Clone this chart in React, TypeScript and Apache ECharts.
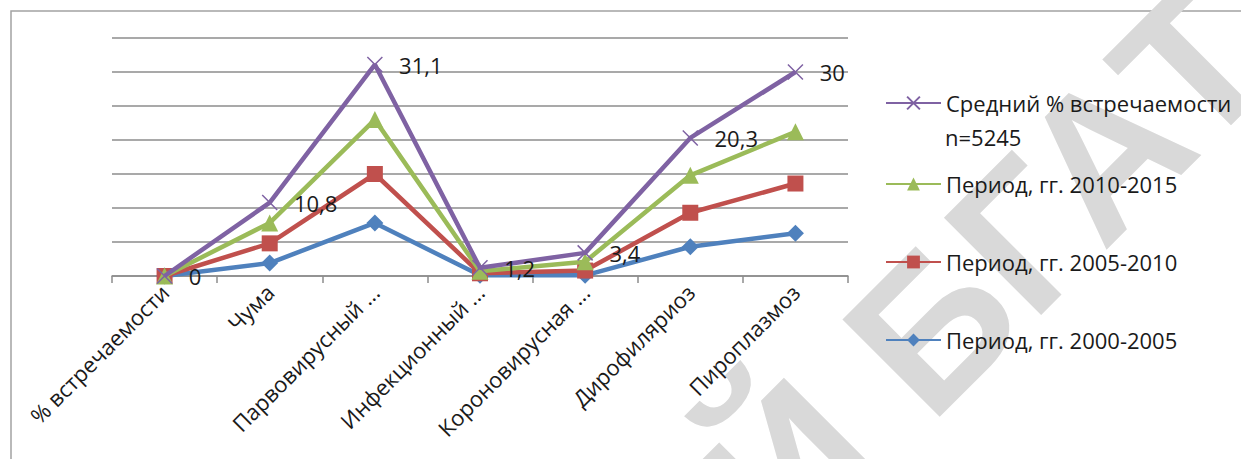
import React, { useEffect, useRef } from 'react';
import * as echarts from 'echarts';

const categories = [
  '% встречаемости',
  'Чума',
  'Парвовирусный ...',
  'Инфекционный ...',
  'Короновирусная ...',
  'Дирофиляриоз',
  'Пироплазмоз',
];
const seriesNames = [
  'Средний % встречаемости n=5245',
  'Период, гг. 2010-2015',
  'Период, гг. 2005-2010',
  'Период, гг. 2000-2005',
];
const avgValues = [0, 10.8, 31.1, 1.2, 3.4, 20.3, 30];
const p2010Values = [0, 7.8, 23.0, 0.7, 2.1, 14.8, 21.2];
const p2005Values = [0, 4.8, 15.0, 0.4, 0.8, 9.3, 13.6];
const p2000Values = [0, 1.9, 7.8, 0.1, 0.1, 4.3, 6.3];
const yMin = 0;
const yMax = 35;
const yStep = 5;

const FONT = 'Open Sans';
const FS = 22;
const TXT = '#1a1a1a';
const GRID = '#8c8c8c';
const PURPLE = '#7f62a3';
const GREEN = '#9bbb59';
const RED = '#c0504d';
const BLUE = '#4f81bd';

const xSymbol = 'path://M0,0L10,10M10,0L0,10';

function App() {
  const ref = useRef<HTMLDivElement>(null);
  useEffect(() => {
    if (!ref.current) return;
    const chart = echarts.init(ref.current, undefined, { renderer: 'svg' });
    const legendBase = {
      orient: 'vertical',
      left: 885,
      itemWidth: 55,
      itemHeight: 16,
      itemGap: 0,
      padding: 0,
      textStyle: { fontFamily: FONT, fontSize: FS, color: TXT, lineHeight: 26, padding: [0, 0, 0, 0] },
      selectedMode: false,
    };
    const wmStyle = { fill: '#d9d9d9', font: 'bold 200px "Liberation Sans"' };
    chart.setOption({
      animation: false,
      backgroundColor: '#ffffff',
      textStyle: { fontFamily: FONT },
      grid: { left: 112, right: 393, top: 38, bottom: 183, containLabel: false },
      graphic: [
        {
          type: 'group',
          x: 881,
          y: 377,
          rotation: Math.PI / 4,
          z: -10,
          silent: true,
          children: [
            { type: 'text', x: 0, y: 0, style: { ...wmStyle, text: 'БГАТУ', align: 'left', verticalAlign: 'middle' } },
            { type: 'text', x: -56, y: 0, style: { ...wmStyle, text: 'РЕПОЗИТОРИЙ', align: 'right', verticalAlign: 'middle' } },
          ],
        },
        {
          type: 'rect',
          shape: { x: 11, y: 11, width: 1400, height: 600 },
          style: { fill: 'none', stroke: '#a3a3a3', lineWidth: 1.5 },
          silent: true,
          z: -5,
        },
        {
          type: 'text',
          x: 945,
          y: 137,
          style: { text: 'n=5245', font: `${FS}px "${FONT}"`, fill: TXT, align: 'left', verticalAlign: 'middle' },
          silent: true,
        },
      ],
      legend: [
        { ...legendBase, top: 90, data: [seriesNames[0]], formatter: () => 'Средний % встречаемости' },
        { ...legendBase, top: 171, data: [seriesNames[1]] },
        { ...legendBase, top: 249, data: [seriesNames[2]] },
        { ...legendBase, top: 327, data: [seriesNames[3]] },
      ],
      xAxis: {
        type: 'category',
        data: categories,
        boundaryGap: true,
        axisLine: { lineStyle: { color: GRID, width: 1.5 } },
        axisTick: { show: true, length: 7, interval: 0, lineStyle: { color: GRID, width: 1.5 } },
        axisLabel: { rotate: 45, interval: 0, margin: 12, fontFamily: FONT, fontSize: FS, color: TXT },
      },
      yAxis: {
        type: 'value',
        min: yMin,
        max: yMax,
        interval: yStep,
        axisLine: { show: false },
        axisTick: { show: false },
        axisLabel: { show: false },
        splitLine: { lineStyle: { color: GRID, width: 1.5 } },
      },
      series: [
        {
          name: seriesNames[3],
          type: 'line',
          data: p2000Values,
          color: BLUE,
          symbol: 'diamond',
          symbolSize: 17,
          lineStyle: { color: BLUE, width: 4.5 },
          itemStyle: { color: BLUE },
          z: 3,
        },
        {
          name: seriesNames[2],
          type: 'line',
          data: p2005Values,
          color: RED,
          symbol: 'rect',
          symbolSize: 16,
          lineStyle: { color: RED, width: 4.5 },
          itemStyle: { color: RED },
          z: 4,
        },
        {
          name: seriesNames[1],
          type: 'line',
          data: p2010Values,
          color: GREEN,
          symbol: 'triangle',
          symbolSize: 17,
          lineStyle: { color: GREEN, width: 4.5 },
          itemStyle: { color: GREEN },
          z: 5,
        },
        {
          name: seriesNames[0],
          type: 'line',
          data: avgValues,
          color: PURPLE,
          symbol: xSymbol,
          symbolSize: 15,
          lineStyle: { color: PURPLE, width: 4.5 },
          itemStyle: { color: PURPLE, borderColor: PURPLE, borderWidth: 1.5 },
          label: {
            show: true,
            position: 'right',
            distance: 16,
            fontFamily: FONT,
            fontSize: FS,
            color: TXT,
            formatter: (p: any) => String(p.value).replace('.', ','),
          },
          z: 6,
        },
      ],
    });
    return () => chart.dispose();
  }, []);
  return <div ref={ref} style={{ position: 'fixed', left: 0, top: 0, width: 1241, height: 459 }} />;
}

export default App;
